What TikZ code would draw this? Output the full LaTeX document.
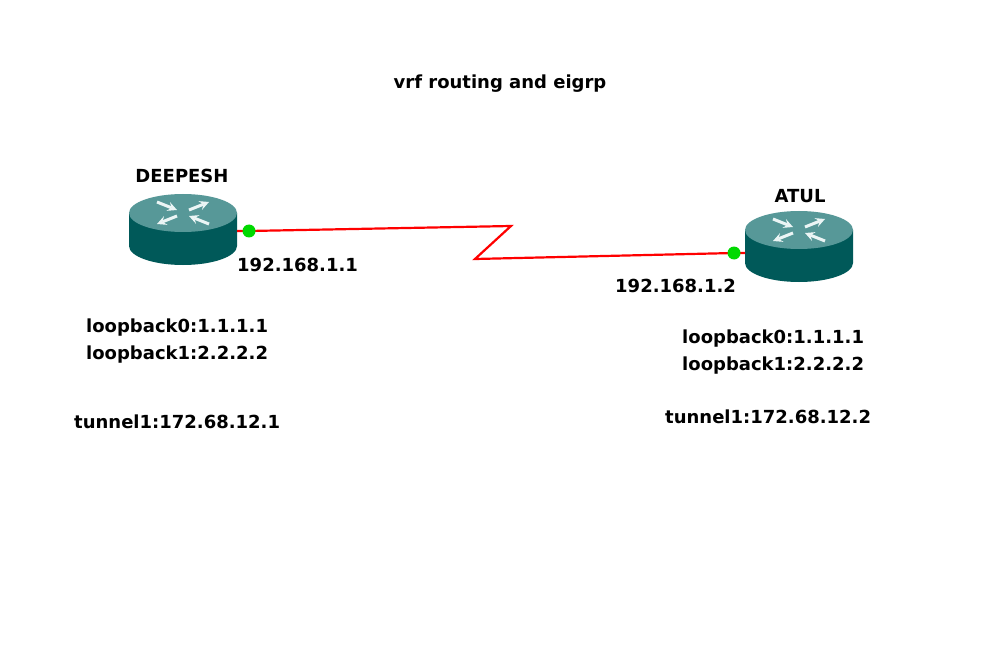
\documentclass[tikz,border=0pt]{standalone}
\usepackage{fontspec}
\setmainfont{DejaVu Sans}
\begin{document}
\begin{tikzpicture}[x=1pt,y=-1pt,
  lbl/.style={font=\bfseries\fontsize{18}{21}\selectfont,inner sep=0pt,anchor=west},
  ttl/.style={font=\bfseries\fontsize{18}{21}\selectfont,inner sep=0pt},
  dot/.style={circle,fill=green!85!black,minimum size=13pt,inner sep=0pt},
  link/.style={red,line width=2.2pt}]
\useasboundingbox (0,0) rectangle (1000,652);
\fill[white] (0,0) rectangle (1000,652);
\def\router#1#2{%
  \begin{scope}[shift={(#1,#2)}]
  \fill[teal!70!black] (-54,0) -- (-54,33) arc[start angle=180,end angle=0,x radius=54,y radius=19] -- (54,0) -- cycle;
  \fill[teal!60!white!85!black] (0,0) ellipse[x radius=54,y radius=19];
  \begin{scope}[white!92!teal,line width=3pt,->,>=stealth]
  \draw (-26,-11) -- (-6,-3); \draw (26,11) -- (6,3);
  \draw (6,-3) -- (26,-11); \draw (-6,3) -- (-26,11);
  \end{scope}
  \end{scope}}
\router{183}{213}
\router{799}{230}
\coordinate (rd) at (237,231);
\coordinate (ra) at (745,253);
\node[ttl] (title) at (500,84) {vrf routing and eigrp};
\node[ttl] (nd) at (182,176) {DEEPESH};
\node[ttl] (na) at (800,196) {ATUL};
\coordinate (k1) at (511,226);
\coordinate (k2) at (475,259);
\coordinate (d1) at (249,231);
\coordinate (d2) at (734,253);
\draw[link] (rd) -- (d1) -- (k1) -- (k2) -- (d2) -- (ra);
\node[dot] (g1) at (d1) {};
\node[dot] (g2) at (d2) {};
\node[lbl] (ip1) at (237,265) {192.168.1.1};
\node[lbl] (ip2) at (615,286) {192.168.1.2};
\node[lbl] (l0a) at (86,328) {loopback0:1.1.1.1};
\node[lbl] (l1a) at (86,355) {loopback1:2.2.2.2};
\node[lbl] (ta) at (74,422) {tunnel1:172.68.12.1};
\node[lbl] (l0b) at (682,339) {loopback0:1.1.1.1};
\node[lbl] (l1b) at (682,366) {loopback1:2.2.2.2};
\node[lbl] (tb) at (665,417) {tunnel1:172.68.12.2};
\end{tikzpicture}
\end{document}
